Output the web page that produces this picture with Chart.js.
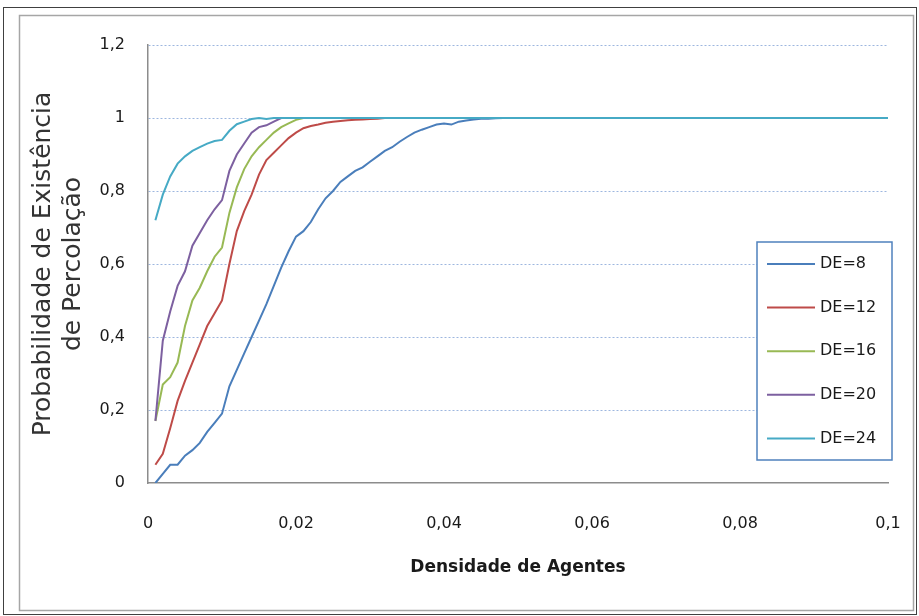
<!DOCTYPE html>
<html lang="pt">
<head>
    <meta charset="UTF-8">
    <title>Probabilidade de Percolação</title>
    <script src="https://cdn.jsdelivr.net/npm/chart.js"></script>
    <style>
        body { margin: 0; background: #fff; }
        canvas { display: block; }
    </style>
</head>
<body>
    <canvas id="grafico" width="919" height="616"></canvas>

    <script>
        // densidade de agentes (eixo x)
        const densidade = [
            0.001, 0.002, 0.003, 0.004, 0.005, 0.006, 0.007, 0.008, 0.009, 0.010,
            0.011, 0.012, 0.013, 0.014, 0.015, 0.016, 0.017, 0.018, 0.019, 0.020,
            0.021, 0.022, 0.023, 0.024, 0.025, 0.026, 0.027, 0.028, 0.029, 0.030,
            0.031, 0.032, 0.033, 0.034, 0.035, 0.036, 0.037, 0.038, 0.039, 0.040,
            0.041, 0.042, 0.043, 0.044, 0.045, 0.046, 0.047, 0.048, 0.049, 0.050,
            0.06, 0.07, 0.08, 0.09, 0.1
        ];

        const de8 = [
            0.00, 0.025, 0.05, 0.05, 0.075, 0.09, 0.11, 0.14, 0.165, 0.19,
            0.265, 0.31, 0.355, 0.40, 0.445, 0.49, 0.54, 0.59, 0.635, 0.675,
            0.69, 0.715, 0.75, 0.78, 0.80, 0.825, 0.84, 0.855, 0.865, 0.88,
            0.895, 0.91, 0.92, 0.935, 0.948, 0.96, 0.968, 0.975, 0.982, 0.985,
            0.982, 0.99, 0.993, 0.996, 0.998, 0.998, 0.999, 1, 1, 1,
            1, 1, 1, 1, 1
        ];
        const de12 = [
            0.05, 0.08, 0.15, 0.225, 0.28, 0.33, 0.38, 0.43, 0.465, 0.50,
            0.60, 0.69, 0.745, 0.79, 0.845, 0.885, 0.905, 0.925, 0.945, 0.96,
            0.972, 0.978, 0.982, 0.987, 0.99, 0.992, 0.994, 0.995, 0.996, 0.997,
            0.998, 1, 1, 1, 1, 1, 1, 1, 1, 1,
            1, 1, 1, 1, 1, 1, 1, 1, 1, 1,
            1, 1, 1, 1, 1
        ];
        const de16 = [
            0.17, 0.27, 0.29, 0.33, 0.43, 0.50, 0.535, 0.58, 0.62, 0.645,
            0.74, 0.81, 0.86, 0.895, 0.92, 0.94, 0.96, 0.975, 0.985, 0.995,
            1, 1, 1, 1, 1, 1, 1, 1, 1, 1,
            1, 1, 1, 1, 1, 1, 1, 1, 1, 1,
            1, 1, 1, 1, 1, 1, 1, 1, 1, 1,
            1, 1, 1, 1, 1
        ];
        const de20 = [
            0.17, 0.39, 0.47, 0.54, 0.58, 0.65, 0.685, 0.72, 0.75, 0.775,
            0.855, 0.90, 0.93, 0.96, 0.975, 0.98, 0.99, 1, 1, 1,
            1, 1, 1, 1, 1, 1, 1, 1, 1, 1,
            1, 1, 1, 1, 1, 1, 1, 1, 1, 1,
            1, 1, 1, 1, 1, 1, 1, 1, 1, 1,
            1, 1, 1, 1, 1
        ];
        const de24 = [
            0.72, 0.79, 0.84, 0.875, 0.895, 0.91, 0.92, 0.93, 0.937, 0.94,
            0.965, 0.983, 0.99, 0.997, 1, 0.997, 1, 1, 1, 1,
            1, 1, 1, 1, 1, 1, 1, 1, 1, 1,
            1, 1, 1, 1, 1, 1, 1, 1, 1, 1,
            1, 1, 1, 1, 1, 1, 1, 1, 1, 1,
            1, 1, 1, 1, 1
        ];

        const series = [
            { label: 'DE=8',  values: de8,  color: '#4a7ebb' },
            { label: 'DE=12', values: de12, color: '#be4b48' },
            { label: 'DE=16', values: de16, color: '#98b954' },
            { label: 'DE=20', values: de20, color: '#7d60a0' },
            { label: 'DE=24', values: de24, color: '#46aac5' }
        ];

        const virgula = (v, casas) => Number(v.toFixed(casas)).toString().replace('.', ',');

        // moldura do gráfico (fundo branco + bordas)
        const moldura = {
            id: 'moldura',
            beforeDraw(chart) {
                const ctx = chart.ctx;
                ctx.save();
                ctx.fillStyle = '#fff';
                ctx.fillRect(0, 0, chart.width, chart.height);
                ctx.strokeStyle = '#404040';
                ctx.lineWidth = 1;
                ctx.strokeRect(3.5, 7.5, 913, 607);
                ctx.strokeStyle = '#a6a6a6';
                ctx.lineWidth = 1.5;
                ctx.strokeRect(19.5, 15.5, 894, 595);
                ctx.restore();
            }
        };

        // legenda em caixa, dentro da área do gráfico
        const legendaCaixa = {
            id: 'legendaCaixa',
            afterDraw(chart) {
                const ctx = chart.ctx;
                ctx.save();
                ctx.fillStyle = '#fff';
                ctx.fillRect(757, 242, 135, 218);
                ctx.strokeStyle = '#4f81bd';
                ctx.lineWidth = 1.5;
                ctx.strokeRect(757, 242, 135, 218);
                ctx.font = '16px "DejaVu Sans"';
                ctx.textBaseline = 'middle';
                ctx.fillStyle = '#1a1a1a';
                chart.data.datasets.forEach((ds, i) => {
                    const y = 264 + i * 43.6;
                    ctx.strokeStyle = ds.borderColor;
                    ctx.lineWidth = 2;
                    ctx.beginPath();
                    ctx.moveTo(767, y);
                    ctx.lineTo(815, y);
                    ctx.stroke();
                    ctx.fillText(ds.label, 820, y);
                });
                ctx.restore();
            }
        };

        new Chart(document.getElementById('grafico'), {
            type: 'line',
            data: {
                labels: densidade,
                datasets: series.map((s, i) => ({
                    label: s.label,
                    data: s.values.map((v, j) => ({ x: densidade[j], y: v })),
                    borderColor: s.color,
                    backgroundColor: s.color,
                    borderWidth: 2,
                    pointRadius: 0,
                    tension: 0,
                    fill: false,
                    order: series.length - i
                }))
            },
            options: {
                responsive: false,
                animation: false,
                devicePixelRatio: 1,
                layout: { padding: { top: 45, right: 31, left: 0, bottom: 0 } },
                plugins: {
                    legend: { display: false },
                    tooltip: { enabled: false }
                },
                scales: {
                    x: {
                        type: 'linear',
                        min: 0,
                        max: 0.1,
                        afterFit(scale) { scale.height = 133; },
                        ticks: {
                            stepSize: 0.02,
                            padding: 3,
                            maxRotation: 0,
                            color: '#1a1a1a',
                            font: { family: 'DejaVu Sans', size: 16 },
                            callback: v => virgula(v, 2)
                        },
                        grid: { display: false, drawTicks: true, tickLength: 28 },
                        border: { display: true, color: '#8c8c8c', width: 1.5 },
                        title: {
                            display: true,
                            text: 'Densidade de Agentes',
                            color: '#1a1a1a',
                            font: { family: 'DejaVu Sans', size: 17, weight: 'bold' },
                            padding: { top: 0, bottom: 38 }
                        }
                    },
                    y: {
                        min: 0,
                        max: 1.2,
                        afterFit(scale) { scale.width = 148; },
                        ticks: {
                            stepSize: 0.2,
                            padding: 23,
                            color: '#1a1a1a',
                            font: { family: 'DejaVu Sans', size: 16 },
                            callback: v => virgula(v, 1)
                        },
                        grid: {
                            drawTicks: false,
                            color: ctx => ctx.tick && ctx.tick.value === 0 ? 'rgba(0,0,0,0)' : '#9db6df',
                            lineWidth: 1
                        },
                        border: { display: true, color: '#8c8c8c', width: 1.5, dash: [2, 2] },
                        title: {
                            display: true,
                            text: ['Probabilidade de Existência', 'de Percolação'],
                            color: '#333',
                            font: { family: 'DejaVu Sans', size: 25, lineHeight: 1.2 },
                            padding: { top: 28, bottom: 0 }
                        }
                    }
                }
            },
            plugins: [moldura, legendaCaixa]
        });
    </script>
</body>
</html>
